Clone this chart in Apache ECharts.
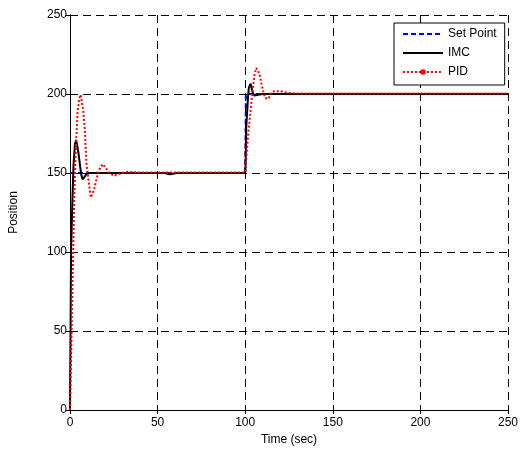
<!DOCTYPE html>
<html>
<head>
<meta charset="utf-8">
<script src="https://cdn.jsdelivr.net/npm/echarts@6/dist/echarts.min.js"></script>
<style>
html,body{margin:0;padding:0;background:#fff;overflow:hidden;}
#chart{width:521px;height:451px;display:block;}
</style>
</head>
<body>
<div id="chart"></div>
<script>
// ---- data ----
var xTicks = [0, 50, 100, 150, 200, 250];
var yTicks = [0, 50, 100, 150, 200, 250];

var setT = [0, 100, 100.4, 250];
var setV = [150, 150, 200, 200];

var imcT = [0, 0.6, 1.3, 2.0, 2.8, 3.5, 4.0, 4.8, 5.8, 6.5, 7.2, 8.3, 9.4, 11, 54, 57, 61, 100, 100.2, 100.6, 101.6, 102.1, 103.1, 104.4, 105.3, 106.3, 108.2, 110, 250];
var imcV = [0, 100, 130, 155, 168, 171, 171.3, 163, 154, 148.5, 146, 147.5, 149.5, 150, 150, 149.2, 150, 150, 155, 179, 198, 204, 206.5, 200.5, 199, 198.5, 199.7, 200, 200];

var pidT = [0, 1.2, 2.4, 3.0, 3.6, 4.3, 5.3, 6.1, 7.5, 8.5, 9.4, 10.5, 11.9, 13.7, 16, 17.5, 18.8, 20.5, 22.2, 25, 29.7, 33, 40, 100, 100.1, 101.6, 103.1, 104.4, 105.4, 106.3, 107.3, 108.2, 109.2, 110, 111.3, 112.3, 113.4, 114.3, 116.6, 120, 124, 130, 250];
var pidV = [0, 66, 133, 155, 172, 188, 197, 199.5, 190, 177, 156, 146, 134.5, 139.4, 150, 154, 155.6, 153, 150.3, 148.2, 150, 150.8, 150.3, 150.3, 150, 173, 190, 204, 212.7, 216.5, 215.5, 212.7, 207, 203, 197.5, 196.4, 197, 200, 201.8, 201.8, 200.8, 200.3, 200.3];

function pairs(t, v) { return t.map(function (x, i) { return [x, v[i]]; }); }

var font = 'Liberation Sans, Arial, sans-serif';
var chart = echarts.init(document.getElementById('chart'), null, {renderer: 'canvas', width: 521, height: 451});

var baseX = {
  type: 'value', min: xTicks[0], max: xTicks[xTicks.length - 1], interval: 50
};
var baseY = {
  type: 'value', min: yTicks[0], max: yTicks[yTicks.length - 1], interval: 50
};

chart.setOption({
  animation: false,
  backgroundColor: '#fff',
  grid: {left: 70, right: 8, top: 15, bottom: 39, containLabel: false},
  legend: {
    orient: 'vertical',
    left: 394, top: 23,
    padding: [5, 8, 7, 8],
    itemGap: 7,
    itemWidth: 40,
    itemHeight: 7,
    backgroundColor: '#fff',
    borderColor: '#000',
    borderWidth: 1,
    textStyle: {fontFamily: font, fontSize: 12, color: '#000', lineHeight: 12},
    data: [
      {name: 'Set Point', itemStyle: {opacity: 0}},
      {name: 'IMC', itemStyle: {opacity: 0}},
      {name: 'PID'}
    ]
  },
  xAxis: [
    Object.assign({}, baseX, {
      position: 'bottom',
      name: 'Time (sec)', nameLocation: 'middle', nameGap: 24,
      nameTextStyle: {fontFamily: font, fontSize: 12, color: '#000'},
      axisLine: {show: true, lineStyle: {color: '#000', width: 1}},
      axisTick: {show: true, inside: true, length: 4, lineStyle: {color: '#000'}},
      axisLabel: {fontFamily: font, fontSize: 12, color: '#000', margin: 7},
      splitLine: {show: true, lineStyle: {color: '#000', width: 1, type: [8, 5]}}
    }),
    Object.assign({}, baseX, {
      position: 'top',
      axisLine: {show: true, lineStyle: {color: '#000', width: 1}},
      axisTick: {show: true, inside: true, length: 4, lineStyle: {color: '#000'}},
      axisLabel: {show: false},
      splitLine: {show: false}
    })
  ],
  yAxis: [
    Object.assign({}, baseY, {
      position: 'left',
      name: 'Position', nameLocation: 'middle', nameGap: 50, nameRotate: 90,
      nameTextStyle: {fontFamily: font, fontSize: 12, color: '#000'},
      axisLine: {show: true, lineStyle: {color: '#000', width: 1}},
      axisTick: {show: true, inside: true, length: 4, lineStyle: {color: '#000'}},
      axisLabel: {fontFamily: font, fontSize: 12, color: '#000', margin: 3},
      splitLine: {show: true, lineStyle: {color: '#000', width: 1, type: [8, 5]}}
    }),
    Object.assign({}, baseY, {
      position: 'right',
      axisLine: {show: true, lineStyle: {color: '#000', width: 1}},
      axisTick: {show: true, inside: true, length: 4, lineStyle: {color: '#000'}},
      axisLabel: {show: false},
      splitLine: {show: false}
    })
  ],
  series: [
    {
      name: 'Set Point', type: 'line', xAxisIndex: 0, yAxisIndex: 0,
      data: pairs(setT, setV), symbol: 'none',
      lineStyle: {color: '#0000ff', width: 2, type: [5, 3]},
      itemStyle: {color: '#0000ff'}, z: 2
    },
    {
      name: 'IMC', type: 'line', xAxisIndex: 0, yAxisIndex: 0,
      data: pairs(imcT, imcV), symbol: 'none',
      lineStyle: {color: '#000', width: 2, type: 'solid'},
      itemStyle: {color: '#000'}, z: 3
    },
    {
      name: 'PID', type: 'line', xAxisIndex: 0, yAxisIndex: 0,
      data: pairs(pidT, pidV), symbol: 'circle', symbolSize: 6, showSymbol: false,
      lineStyle: {color: '#ff0000', width: 2, type: [2, 2]},
      itemStyle: {color: '#ff0000'}, z: 4
    }
  ]
});
</script>
</body>
</html>
